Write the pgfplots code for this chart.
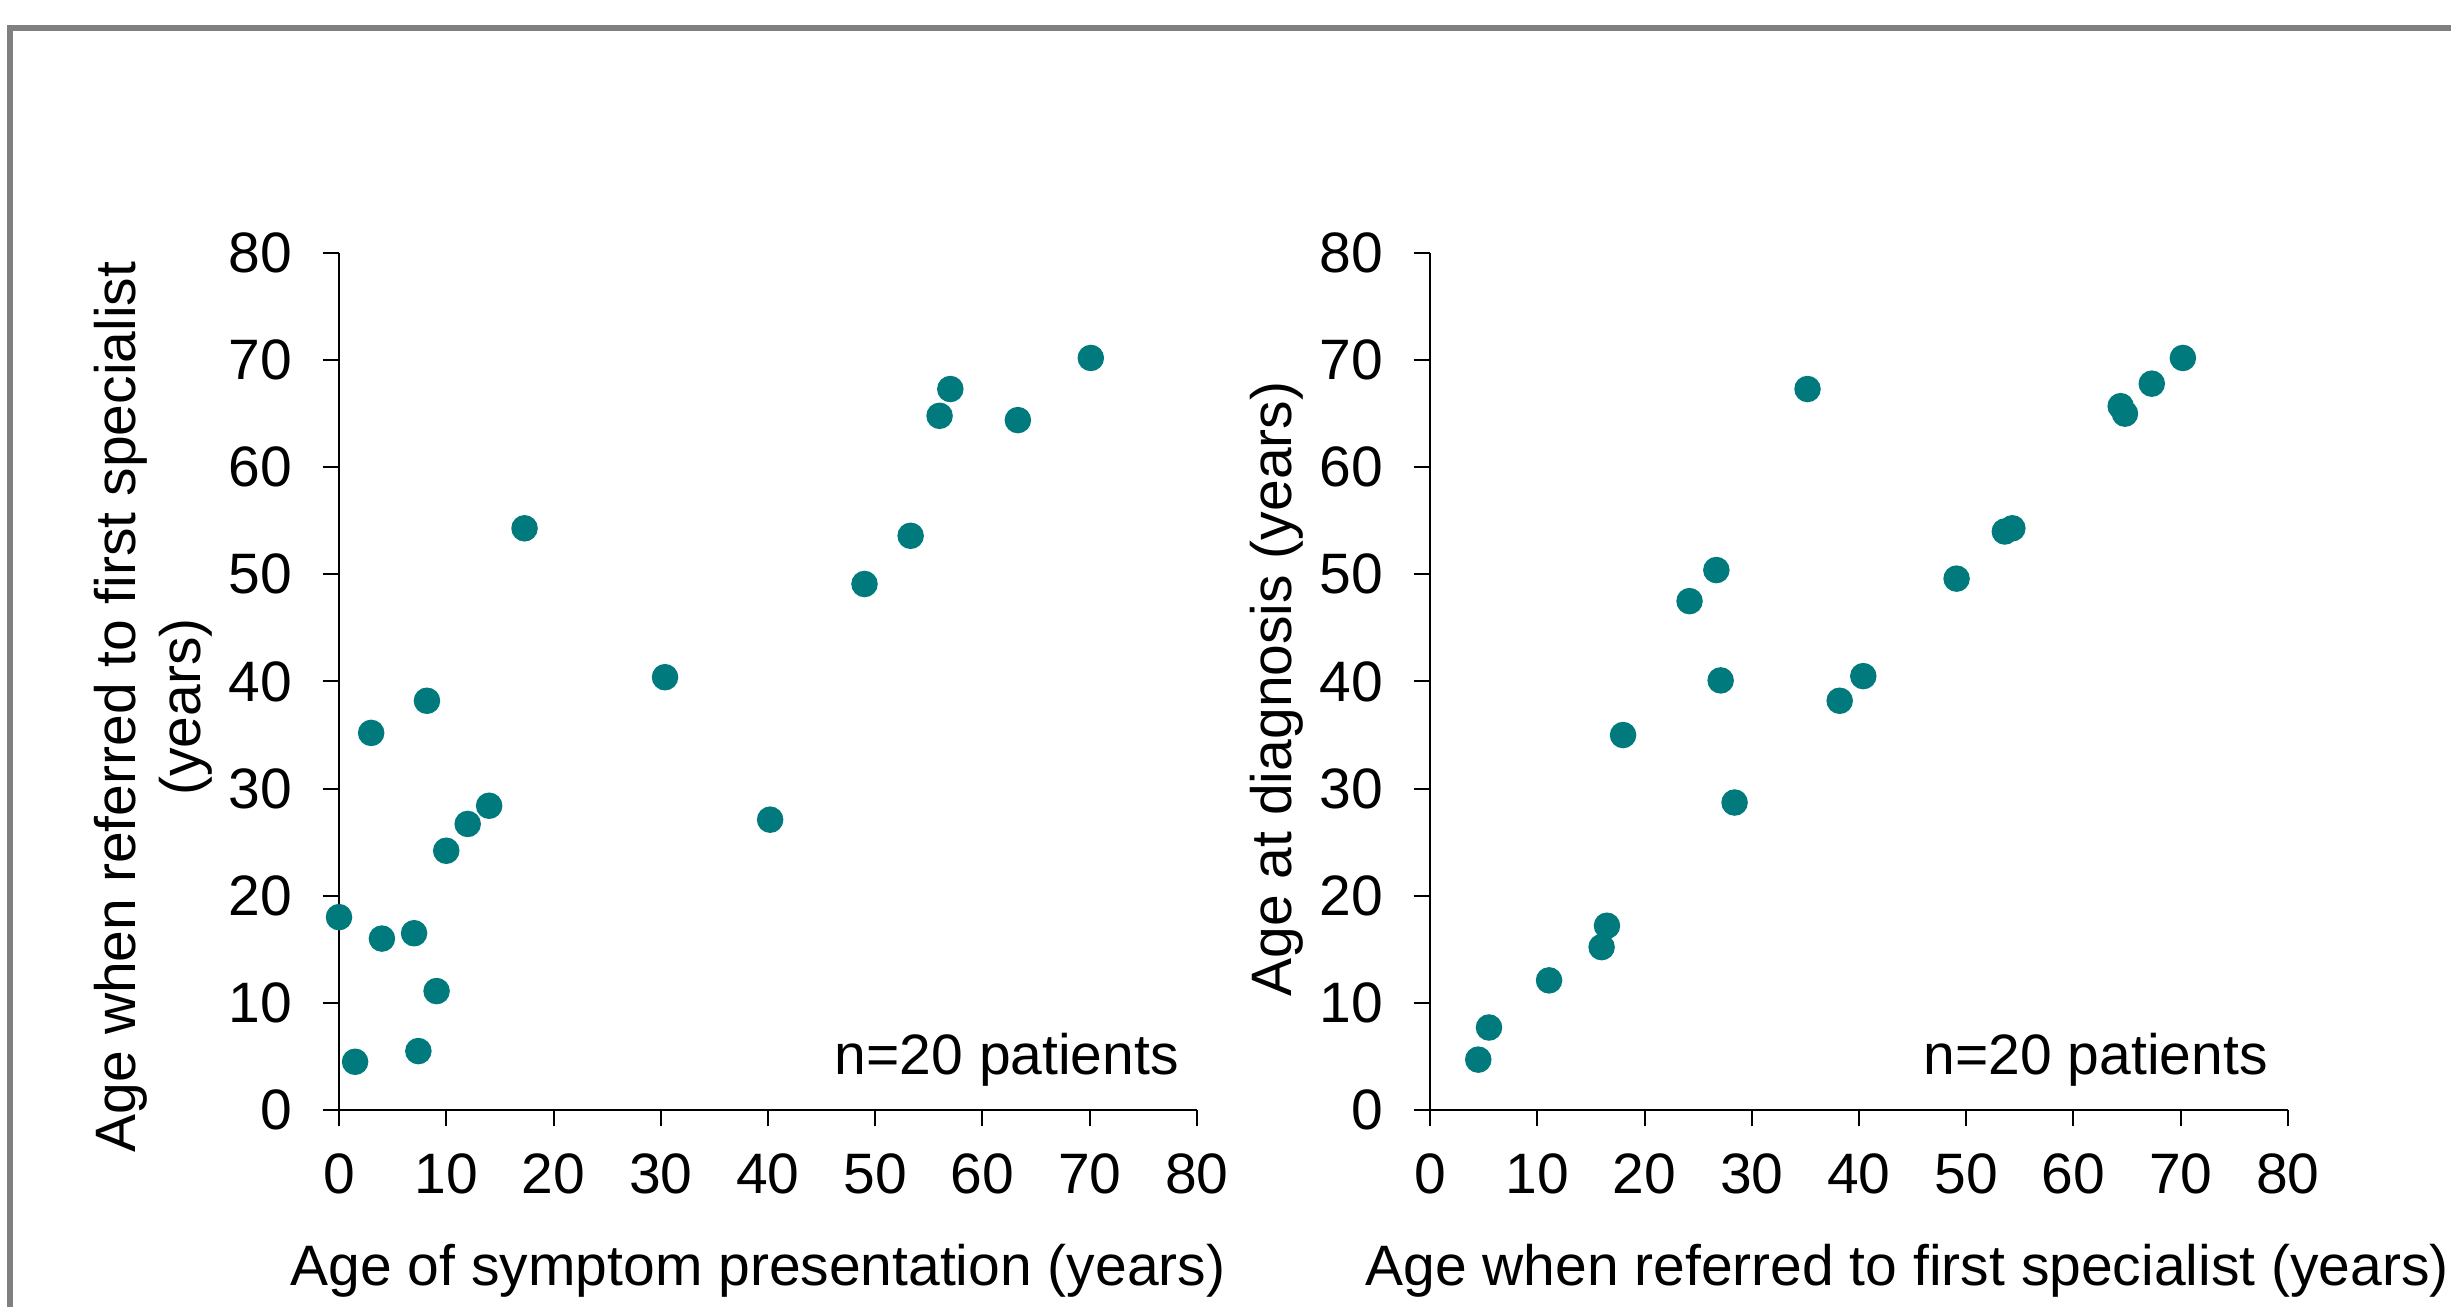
\documentclass[border=0pt]{standalone}
\usepackage{pgfplots}
\pgfplotsset{compat=1.18}
\usepackage{fontspec}
\setmainfont{Liberation Sans}
\definecolor{dotc}{RGB}{0,122,124}
\definecolor{frame}{RGB}{128,128,128}
\pgfplotsset{
  myax/.style={
    scale only axis, width=171.6pt, height=171.4pt,
    xmin=0, xmax=80, ymin=0, ymax=80,
    xtick={0,10,...,80}, ytick={0,10,...,80},
    axis lines=left, axis line style={-, line width=0.4pt},
    tick align=outside, major tick length=3.3pt,
    tick style={black, line width=0.4pt},
    clip=false,
    tick label style={font=\fontsize{11.4}{13}\selectfont},
    xticklabel style={yshift=-2pt},
    yticklabel style={xshift=-2.5pt},
    /pgf/number format/assume math mode=true,
    anchor=south west,
  }
}
\begin{document}
\begin{tikzpicture}
\useasboundingbox (0,0) rectangle (490.2pt,261.4pt);
\draw[frame, line width=1.2pt] (2pt,-20pt) -- (2pt,255.8pt) -- (520pt,255.8pt);
\begin{axis}[myax, at={(67.8pt,39.4pt)}]
\addplot[only marks, mark=*, mark size=2.45pt, mark options={fill=dotc, draw=dotc}] coordinates {
(0,18.0) (1.5,4.5) (3.0,35.2) (4.0,16.0) (7.0,16.5) (7.4,5.5) (8.2,38.2) (9.1,11.1)
(10.0,24.2) (12.0,26.7) (14.0,28.4) (17.3,54.3) (30.4,40.4) (40.2,27.1) (49.0,49.1)
(53.3,53.6) (56.0,64.8) (57.0,67.3) (63.3,64.4) (70.1,70.2)
};
\node[anchor=east, inner sep=0pt, font=\fontsize{11.4}{13}\selectfont] at (axis cs:78.4,4.7) {n=20 patients};
\end{axis}
\begin{axis}[myax, at={(286pt,39.4pt)}]
\addplot[only marks, mark=*, mark size=2.45pt, mark options={fill=dotc, draw=dotc}] coordinates {
(4.5,4.7) (5.5,7.7) (11.1,12.1) (16.0,15.2) (16.5,17.2) (18.0,35.0) (24.2,47.5) (26.7,50.4)
(27.1,40.1) (28.4,28.7) (35.2,67.3) (38.2,38.2) (40.4,40.5) (49.1,49.6) (53.6,54.0)
(54.3,54.3) (64.4,65.7) (64.8,65.0) (67.3,67.8) (70.2,70.2)
};
\node[anchor=east, inner sep=0pt, font=\fontsize{11.4}{13}\selectfont] at (axis cs:78.2,4.7) {n=20 patients};
\end{axis}
\node[font=\fontsize{11.4}{13}\selectfont, inner sep=0pt] at (151.6pt,7.2pt) {Age of symptom presentation (years)};
\node[font=\fontsize{11.4}{13}\selectfont, inner sep=0pt] at (381.4pt,7.2pt) {Age when referred to first specialist (years)};
\node[font=\fontsize{11.4}{13}\selectfont, inner sep=0pt, rotate=90, align=center] at (30.6pt,120pt) {Age when referred to first specialist\\(years)};
\node[font=\fontsize{11.4}{13}\selectfont, inner sep=0pt, rotate=90] at (255.4pt,123.6pt) {Age at diagnosis (years)};
\end{tikzpicture}
\end{document}
